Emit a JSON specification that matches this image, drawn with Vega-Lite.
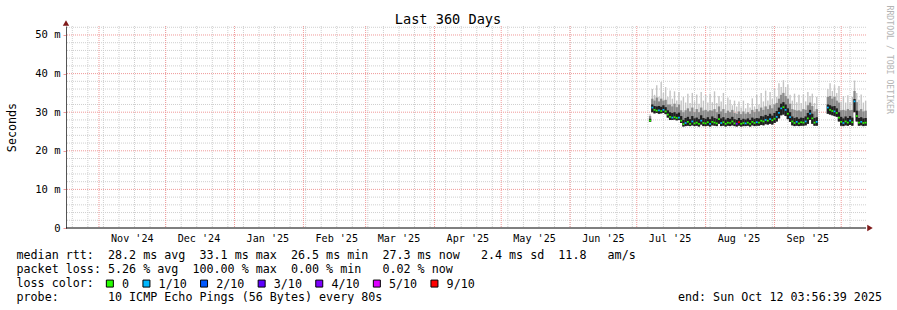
{
  "$schema": "https://vega.github.io/schema/vega-lite/v6.json",
  "width": 800,
  "height": 202,
  "autosize": {"type": "none"},
  "padding": {"left": 66, "top": 26, "right": 31, "bottom": 82},
  "background": "white",
  "config": {"view": {"stroke": null}, "font": "DejaVu Sans Mono"},
  "title": {"text": "Last 360 Days", "font": "DejaVu Sans Mono", "fontSize": 13.6, "fontWeight": "normal", "color": "#000", "anchor": "middle", "frame": "group", "dx": -18, "offset": -22},
  "resolve": {"axis": {"y": "independent"}},
  "datasets": {
    "ymin": [{"v":2},{"v":4},{"v":6},{"v":8},{"v":12},{"v":14},{"v":16},{"v":18},{"v":22},{"v":24},{"v":26},{"v":28},{"v":32},{"v":34},{"v":36},{"v":38},{"v":42},{"v":44},{"v":46},{"v":48},{"v":52}],
    "ymaj": [{"v":10},{"v":20},{"v":30},{"v":40},{"v":50}],
    "zero": [{"v":0}],
    "sundays": [{"t":"2024-10-20"},{"t":"2024-10-27"},{"t":"2024-11-03"},{"t":"2024-11-10"},{"t":"2024-11-17"},{"t":"2024-11-24"},{"t":"2024-12-01"},{"t":"2024-12-08"},{"t":"2024-12-15"},{"t":"2024-12-22"},{"t":"2024-12-29"},{"t":"2025-01-05"},{"t":"2025-01-12"},{"t":"2025-01-19"},{"t":"2025-01-26"},{"t":"2025-02-02"},{"t":"2025-02-09"},{"t":"2025-02-16"},{"t":"2025-02-23"},{"t":"2025-03-02"},{"t":"2025-03-09"},{"t":"2025-03-16"},{"t":"2025-03-23"},{"t":"2025-03-30"},{"t":"2025-04-06"},{"t":"2025-04-13"},{"t":"2025-04-20"},{"t":"2025-04-27"},{"t":"2025-05-04"},{"t":"2025-05-11"},{"t":"2025-05-18"},{"t":"2025-05-25"},{"t":"2025-06-01"},{"t":"2025-06-08"},{"t":"2025-06-15"},{"t":"2025-06-22"},{"t":"2025-06-29"},{"t":"2025-07-06"},{"t":"2025-07-13"},{"t":"2025-07-20"},{"t":"2025-07-27"},{"t":"2025-08-03"},{"t":"2025-08-10"},{"t":"2025-08-17"},{"t":"2025-08-24"},{"t":"2025-08-31"},{"t":"2025-09-07"},{"t":"2025-09-14"},{"t":"2025-09-21"},{"t":"2025-09-28"},{"t":"2025-10-05"}],
    "months": [{"t":"2024-11-01"},{"t":"2024-12-01"},{"t":"2025-01-01"},{"t":"2025-02-01"},{"t":"2025-03-01"},{"t":"2025-04-01"},{"t":"2025-05-01"},{"t":"2025-06-01"},{"t":"2025-07-01"},{"t":"2025-08-01"},{"t":"2025-09-01"},{"t":"2025-10-01"}],
    "labels": [{"t":"2024-11-16","lab":"Nov '24"},{"t":"2024-12-16","lab":"Dec '24"},{"t":"2025-01-16","lab":"Jan '25"},{"t":"2025-02-16","lab":"Feb '25"},{"t":"2025-03-16","lab":"Mar '25"},{"t":"2025-04-16","lab":"Apr '25"},{"t":"2025-05-16","lab":"May '25"},{"t":"2025-06-16","lab":"Jun '25"},{"t":"2025-07-16","lab":"Jul '25"},{"t":"2025-08-16","lab":"Aug '25"},{"t":"2025-09-16","lab":"Sep '25"}],
    "days": [
      {"t":"2025-07-07","med":27.8,"lo":27.5,"d":28.3,"m":29.0,"hi":29.5,"loss":"0"},
      {"t":"2025-07-08","med":31.2,"lo":30.0,"d":32.0,"m":33.5,"hi":36.0,"loss":"1/10"},
      {"t":"2025-07-09","med":30.6,"lo":29.7,"d":31.6,"m":33.0,"hi":34.5,"loss":"0"},
      {"t":"2025-07-10","med":30.4,"lo":29.8,"d":31.5,"m":33.8,"hi":37.0,"loss":"0"},
      {"t":"2025-07-11","med":30.5,"lo":29.6,"d":31.6,"m":32.8,"hi":34.0,"loss":"1/10"},
      {"t":"2025-07-12","med":30.3,"lo":29.7,"d":31.4,"m":33.5,"hi":37.8,"loss":"0"},
      {"t":"2025-07-13","med":30.6,"lo":29.8,"d":31.8,"m":33.0,"hi":35.0,"loss":"1/10"},
      {"t":"2025-07-14","med":30.2,"lo":29.5,"d":31.3,"m":33.2,"hi":36.5,"loss":"0"},
      {"t":"2025-07-15","med":29.4,"lo":28.6,"d":30.5,"m":32.0,"hi":34.0,"loss":"0"},
      {"t":"2025-07-16","med":28.8,"lo":28.0,"d":30.0,"m":32.0,"hi":35.6,"loss":"0"},
      {"t":"2025-07-17","med":28.6,"lo":28.0,"d":29.8,"m":31.5,"hi":33.5,"loss":"1/10"},
      {"t":"2025-07-18","med":28.7,"lo":28.1,"d":30.0,"m":32.2,"hi":35.4,"loss":"0"},
      {"t":"2025-07-19","med":28.5,"lo":27.9,"d":29.6,"m":31.3,"hi":33.0,"loss":"0"},
      {"t":"2025-07-20","med":28.6,"lo":28.0,"d":29.9,"m":32.0,"hi":35.2,"loss":"1/10"},
      {"t":"2025-07-21","med":27.8,"lo":27.2,"d":29.0,"m":30.5,"hi":33.0,"loss":"0"},
      {"t":"2025-07-22","med":26.9,"lo":26.3,"d":28.0,"m":30.0,"hi":34.0,"loss":"0"},
      {"t":"2025-07-23","med":27.2,"lo":26.4,"d":28.5,"m":30.5,"hi":32.5,"loss":"1/10"},
      {"t":"2025-07-24","med":27.5,"lo":26.5,"d":28.8,"m":31.0,"hi":34.8,"loss":"0"},
      {"t":"2025-07-25","med":27.0,"lo":26.4,"d":28.2,"m":30.2,"hi":32.4,"loss":"0"},
      {"t":"2025-07-26","med":27.6,"lo":26.6,"d":29.0,"m":31.2,"hi":35.0,"loss":"1/10"},
      {"t":"2025-07-27","med":27.1,"lo":26.4,"d":28.4,"m":30.0,"hi":32.8,"loss":"0"},
      {"t":"2025-07-28","med":27.3,"lo":26.5,"d":28.6,"m":30.8,"hi":34.6,"loss":"0"},
      {"t":"2025-07-29","med":27.0,"lo":26.3,"d":28.2,"m":30.0,"hi":32.2,"loss":"0"},
      {"t":"2025-07-30","med":27.8,"lo":26.8,"d":29.2,"m":31.2,"hi":35.2,"loss":"1/10"},
      {"t":"2025-07-31","med":27.2,"lo":26.4,"d":28.5,"m":30.4,"hi":33.0,"loss":"0"},
      {"t":"2025-08-01","med":27.1,"lo":26.4,"d":28.3,"m":30.6,"hi":34.5,"loss":"0"},
      {"t":"2025-08-02","med":27.4,"lo":26.5,"d":28.7,"m":30.2,"hi":32.5,"loss":"0"},
      {"t":"2025-08-03","med":27.0,"lo":26.3,"d":28.2,"m":30.5,"hi":34.8,"loss":"1/10"},
      {"t":"2025-08-04","med":27.5,"lo":26.6,"d":28.9,"m":30.4,"hi":32.6,"loss":"0"},
      {"t":"2025-08-05","med":27.3,"lo":26.5,"d":28.5,"m":30.8,"hi":35.4,"loss":"0"},
      {"t":"2025-08-06","med":27.1,"lo":26.4,"d":28.3,"m":30.0,"hi":32.4,"loss":"0"},
      {"t":"2025-08-07","med":28.2,"lo":27.0,"d":29.5,"m":31.5,"hi":34.2,"loss":"0"},
      {"t":"2025-08-08","med":27.2,"lo":26.4,"d":28.4,"m":30.2,"hi":32.8,"loss":"1/10"},
      {"t":"2025-08-09","med":27.4,"lo":26.5,"d":28.7,"m":30.8,"hi":35.0,"loss":"0"},
      {"t":"2025-08-10","med":27.0,"lo":26.3,"d":28.1,"m":29.8,"hi":32.0,"loss":"0"},
      {"t":"2025-08-11","med":27.3,"lo":26.5,"d":28.5,"m":30.4,"hi":33.8,"loss":"0"},
      {"t":"2025-08-12","med":27.2,"lo":26.4,"d":28.3,"m":30.0,"hi":33.2,"loss":"0"},
      {"t":"2025-08-13","med":27.6,"lo":26.6,"d":28.8,"m":30.6,"hi":31.8,"loss":"0"},
      {"t":"2025-08-14","med":27.1,"lo":26.4,"d":28.2,"m":29.8,"hi":33.0,"loss":"0"},
      {"t":"2025-08-15","med":27.0,"lo":26.3,"d":28.0,"m":29.6,"hi":31.5,"loss":"4/10"},
      {"t":"2025-08-16","med":27.4,"lo":26.5,"d":28.5,"m":30.2,"hi":32.8,"loss":"9/10"},
      {"t":"2025-08-17","med":27.0,"lo":26.3,"d":28.0,"m":29.5,"hi":31.2,"loss":"0"},
      {"t":"2025-08-18","med":27.2,"lo":26.4,"d":28.3,"m":30.2,"hi":33.0,"loss":"0"},
      {"t":"2025-08-19","med":27.1,"lo":26.4,"d":28.1,"m":29.6,"hi":31.0,"loss":"1/10"},
      {"t":"2025-08-20","med":27.3,"lo":26.5,"d":28.4,"m":30.0,"hi":32.4,"loss":"0"},
      {"t":"2025-08-21","med":27.0,"lo":26.3,"d":28.0,"m":29.6,"hi":31.2,"loss":"0"},
      {"t":"2025-08-22","med":27.5,"lo":26.6,"d":28.6,"m":30.6,"hi":33.6,"loss":"0"},
      {"t":"2025-08-23","med":27.2,"lo":26.4,"d":28.3,"m":30.0,"hi":31.5,"loss":"0"},
      {"t":"2025-08-24","med":27.4,"lo":26.5,"d":28.5,"m":30.8,"hi":34.5,"loss":"1/10"},
      {"t":"2025-08-25","med":27.3,"lo":26.5,"d":28.4,"m":30.2,"hi":32.0,"loss":"0"},
      {"t":"2025-08-26","med":27.8,"lo":26.7,"d":29.0,"m":31.2,"hi":35.0,"loss":"0"},
      {"t":"2025-08-27","med":27.6,"lo":26.6,"d":28.9,"m":30.6,"hi":32.8,"loss":"0"},
      {"t":"2025-08-28","med":28.0,"lo":26.9,"d":29.3,"m":31.5,"hi":35.6,"loss":"1/10"},
      {"t":"2025-08-29","med":27.8,"lo":26.8,"d":29.0,"m":30.8,"hi":33.0,"loss":"0"},
      {"t":"2025-08-30","med":28.2,"lo":27.0,"d":29.6,"m":31.8,"hi":35.2,"loss":"1/10"},
      {"t":"2025-08-31","med":27.9,"lo":26.8,"d":29.1,"m":31.0,"hi":33.4,"loss":"0"},
      {"t":"2025-09-01","med":28.3,"lo":27.2,"d":29.8,"m":32.0,"hi":36.0,"loss":"0"},
      {"t":"2025-09-02","med":28.8,"lo":27.6,"d":30.3,"m":32.4,"hi":34.0,"loss":"1/10"},
      {"t":"2025-09-03","med":29.8,"lo":28.4,"d":31.2,"m":33.5,"hi":37.5,"loss":"1/10"},
      {"t":"2025-09-04","med":31.0,"lo":29.2,"d":32.2,"m":34.5,"hi":36.5,"loss":"1/10"},
      {"t":"2025-09-05","med":31.3,"lo":29.4,"d":32.6,"m":35.0,"hi":38.3,"loss":"0"},
      {"t":"2025-09-06","med":30.6,"lo":29.0,"d":32.0,"m":34.2,"hi":36.5,"loss":"1/10"},
      {"t":"2025-09-07","med":29.6,"lo":28.2,"d":31.0,"m":33.5,"hi":37.2,"loss":"0"},
      {"t":"2025-09-08","med":28.7,"lo":27.5,"d":30.0,"m":32.2,"hi":34.5,"loss":"1/10"},
      {"t":"2025-09-09","med":27.6,"lo":26.6,"d":28.9,"m":30.8,"hi":33.0,"loss":"0"},
      {"t":"2025-09-10","med":27.2,"lo":26.4,"d":28.5,"m":30.6,"hi":34.8,"loss":"0"},
      {"t":"2025-09-11","med":27.5,"lo":26.5,"d":28.7,"m":30.4,"hi":32.6,"loss":"1/10"},
      {"t":"2025-09-12","med":27.1,"lo":26.4,"d":28.3,"m":30.5,"hi":34.5,"loss":"0"},
      {"t":"2025-09-13","med":27.4,"lo":26.5,"d":28.6,"m":30.2,"hi":32.4,"loss":"0"},
      {"t":"2025-09-14","med":27.3,"lo":26.5,"d":28.5,"m":30.8,"hi":34.6,"loss":"0"},
      {"t":"2025-09-15","med":27.6,"lo":26.6,"d":28.9,"m":30.6,"hi":32.8,"loss":"1/10"},
      {"t":"2025-09-16","med":28.4,"lo":27.0,"d":29.8,"m":31.8,"hi":35.2,"loss":"0"},
      {"t":"2025-09-17","med":29.6,"lo":28.0,"d":30.6,"m":32.5,"hi":34.2,"loss":"1/10"},
      {"t":"2025-09-18","med":28.4,"lo":27.0,"d":29.6,"m":31.6,"hi":34.8,"loss":"0"},
      {"t":"2025-09-19","med":27.3,"lo":26.5,"d":28.5,"m":30.2,"hi":32.4,"loss":"0"},
      {"t":"2025-09-20","med":27.5,"lo":26.5,"d":28.7,"m":30.8,"hi":34.0,"loss":"1/10"},
      {"t":"2025-09-25","med":31.2,"lo":29.6,"d":32.0,"m":34.0,"hi":36.0,"loss":"1/10"},
      {"t":"2025-09-26","med":30.6,"lo":29.4,"d":31.8,"m":34.2,"hi":37.5,"loss":"0"},
      {"t":"2025-09-27","med":30.3,"lo":29.2,"d":31.5,"m":33.5,"hi":35.5,"loss":"0"},
      {"t":"2025-09-28","med":30.2,"lo":29.0,"d":31.6,"m":34.0,"hi":37.0,"loss":"1/10"},
      {"t":"2025-09-29","med":29.8,"lo":28.8,"d":31.0,"m":33.0,"hi":35.0,"loss":"0"},
      {"t":"2025-09-30","med":28.6,"lo":27.6,"d":30.0,"m":32.5,"hi":36.8,"loss":"0"},
      {"t":"2025-10-01","med":27.5,"lo":26.5,"d":28.8,"m":30.5,"hi":32.8,"loss":"0"},
      {"t":"2025-10-02","med":27.2,"lo":26.4,"d":28.4,"m":30.6,"hi":34.2,"loss":"1/10"},
      {"t":"2025-10-03","med":27.6,"lo":26.6,"d":28.9,"m":30.4,"hi":32.5,"loss":"0"},
      {"t":"2025-10-04","med":27.3,"lo":26.5,"d":28.5,"m":30.8,"hi":34.4,"loss":"0"},
      {"t":"2025-10-05","med":27.8,"lo":26.7,"d":29.0,"m":30.5,"hi":32.6,"loss":"1/10"},
      {"t":"2025-10-06","med":27.4,"lo":26.5,"d":28.6,"m":30.6,"hi":34.0,"loss":"0"},
      {"t":"2025-10-07","med":32.8,"lo":30.0,"d":33.4,"m":35.5,"hi":38.2,"loss":"1/10"},
      {"t":"2025-10-08","med":29.0,"lo":27.6,"d":30.4,"m":32.6,"hi":35.0,"loss":"0"},
      {"t":"2025-10-09","med":27.3,"lo":26.5,"d":28.5,"m":30.4,"hi":33.2,"loss":"0"},
      {"t":"2025-10-10","med":27.5,"lo":26.6,"d":28.7,"m":30.8,"hi":34.6,"loss":"1/10"},
      {"t":"2025-10-11","med":27.2,"lo":26.4,"d":28.4,"m":30.2,"hi":32.5,"loss":"0"},
      {"t":"2025-10-12","med":27.3,"lo":26.5,"d":28.5,"m":30.4,"hi":33.0,"loss":"0"}
    ]
  },
  "layer": [
    {
      "data": {"name": "sundays"},
      "mark": {"type": "rule", "color": "#cfcfcf", "strokeWidth": 1, "strokeDash": [1, 1]},
      "encoding": {
        "x": {"field": "t", "type": "temporal", "axis": null, "scale": {"type": "utc", "domain": [1729137399000, 1760241399000]}}
      }
    },
    {
      "data": {"name": "ymin"},
      "mark": {"type": "rule", "color": "#cfcfcf", "strokeWidth": 1, "strokeDash": [1, 1]},
      "encoding": {
        "y": {"field": "v", "type": "quantitative", "scale": {"domain": [0, 52.33], "nice": false},
          "axis": {"orient": "left", "values": [0, 10, 20, 30, 40, 50], "labelExpr": "datum.value == 0 ? '0\u00a0\u00a0' : datum.value + '\u00a0m'", "labelFont": "DejaVu Sans Mono", "labelFontSize": 10.5, "labelColor": "#000", "labelPadding": 3, "tickSize": 3, "tickColor": "#f09999", "domainColor": "#555", "grid": false,
            "title": "Seconds", "titleFont": "DejaVu Sans Mono", "titleFontSize": 11.7, "titleFontWeight": "normal", "titleColor": "#000", "titleAngle": 270, "titleX": -55, "titleY": 101, "titleAlign": "center", "titleBaseline": "middle"}}
      }
    },
    {
      "data": {"name": "ymaj"},
      "mark": {"type": "rule", "color": "#f09999", "strokeWidth": 1, "strokeDash": [1, 1]},
      "encoding": {
        "y": {"field": "v", "type": "quantitative", "scale": {"domain": [0, 52.33], "nice": false},
          "axis": {"orient": "right", "labels": false, "ticks": false, "domain": false, "grid": false,
            "title": "RRDTOOL / TOBI OETIKER", "titleFont": "DejaVu Sans Mono", "titleFontSize": 8.2, "titleFontWeight": "normal", "titleColor": "#b4b4b4", "titleAngle": 90, "titleX": 22, "titleY": -21, "titleAlign": "left", "titleBaseline": "middle"}}
      }
    },
    {
      "data": {"name": "months"},
      "mark": {"type": "rule", "color": "#f09999", "strokeWidth": 1, "strokeDash": [1, 1]},
      "encoding": {
        "x": {"field": "t", "type": "temporal", "axis": null, "scale": {"type": "utc", "domain": [1729137399000, 1760241399000]}}
      }
    },
    {
      "data": {"name": "days"},
      "mark": {"type": "rule", "color": "#c4c4c4", "strokeWidth": 1.4},
      "encoding": {
        "x": {"field": "t", "type": "temporal", "axis": null, "scale": {"type": "utc", "domain": [1729137399000, 1760241399000]}},
        "y": {"field": "lo", "type": "quantitative", "axis": null, "scale": {"domain": [0, 52.33], "nice": false}},
        "y2": {"field": "hi"}
      }
    },
    {
      "data": {"name": "days"},
      "mark": {"type": "rule", "color": "#8a8a8a", "strokeWidth": 2.3},
      "encoding": {
        "x": {"field": "t", "type": "temporal", "axis": null, "scale": {"type": "utc", "domain": [1729137399000, 1760241399000]}},
        "y": {"field": "lo", "type": "quantitative", "axis": null, "scale": {"domain": [0, 52.33], "nice": false}},
        "y2": {"field": "m"}
      }
    },
    {
      "data": {"name": "days"},
      "mark": {"type": "rule", "color": "#1e1e1e", "strokeWidth": 2.3},
      "encoding": {
        "x": {"field": "t", "type": "temporal", "axis": null, "scale": {"type": "utc", "domain": [1729137399000, 1760241399000]}},
        "y": {"field": "lo", "type": "quantitative", "axis": null, "scale": {"domain": [0, 52.33], "nice": false}},
        "y2": {"field": "d"}
      }
    },
    {
      "data": {"name": "days"},
      "mark": {"type": "square", "size": 3, "opacity": 1},
      "encoding": {
        "x": {"field": "t", "type": "temporal", "axis": null, "scale": {"type": "utc", "domain": [1729137399000, 1760241399000]}},
        "y": {"field": "med", "type": "quantitative", "axis": null, "scale": {"domain": [0, 52.33], "nice": false}},
        "color": {"field": "loss", "type": "nominal",
          "scale": {"domain": ["0", "1/10", "2/10", "3/10", "4/10", "5/10", "9/10"], "range": ["#26ff00", "#00b8ff", "#0059ff", "#5e00ff", "#7e00ff", "#dd00ff", "#ff0000"]},
          "legend": {"orient": "none", "legendX": 38, "legendY": 251.5, "direction": "horizontal", "columns": 7, "title": null, "padding": 0,
            "symbolType": "square", "symbolSize": 49, "symbolStrokeColor": "#000", "symbolStrokeWidth": 1, "symbolOpacity": 1,
            "labelFont": "DejaVu Sans Mono", "labelFontSize": 11.7, "labelColor": "#000", "labelOffset": 6.3, "columnPadding": 10.6, "labelLimit": 0,
            "encode": {"symbols": {"update": {"stroke": {"value": "#000"}, "strokeWidth": {"value": 1}, "opacity": {"value": 1}}}}}}
      }
    },
    {
      "data": {"name": "zero"},
      "mark": {"type": "rule", "color": "#000", "strokeWidth": 1},
      "encoding": {
        "y": {"field": "v", "type": "quantitative", "scale": {"domain": [0, 52.33], "nice": false},
          "axis": {"orient": "left", "labels": false, "ticks": false, "domain": false, "grid": false,
            "title": ["median\u00a0rtt:\u00a0\u00a028.2\u00a0ms\u00a0avg\u00a0\u00a033.1\u00a0ms\u00a0max\u00a0\u00a026.5\u00a0ms\u00a0min\u00a0\u00a027.3\u00a0ms\u00a0now\u00a0\u00a0\u00a02.4\u00a0ms\u00a0sd\u00a0\u00a011.8\u00a0\u00a0\u00a0am/s", "packet\u00a0loss:\u00a05.26\u00a0%\u00a0avg\u00a0\u00a0100.00\u00a0%\u00a0max\u00a0\u00a00.00\u00a0%\u00a0min\u00a0\u00a0\u00a00.02\u00a0%\u00a0now", "loss\u00a0color:", "probe:\u00a0\u00a0\u00a0\u00a0\u00a0\u00a0\u00a010\u00a0ICMP\u00a0Echo\u00a0Pings\u00a0(56\u00a0Bytes)\u00a0every\u00a080s\u00a0\u00a0\u00a0\u00a0\u00a0\u00a0\u00a0\u00a0\u00a0\u00a0\u00a0\u00a0\u00a0\u00a0\u00a0\u00a0\u00a0\u00a0\u00a0\u00a0\u00a0\u00a0\u00a0\u00a0\u00a0\u00a0\u00a0\u00a0\u00a0\u00a0\u00a0\u00a0\u00a0\u00a0\u00a0\u00a0\u00a0\u00a0\u00a0\u00a0\u00a0\u00a0end:\u00a0Sun\u00a0Oct\u00a012\u00a003:56:39\u00a02025"],
            "titleFont": "DejaVu Sans Mono", "titleFontSize": 11.7, "titleFontWeight": "normal", "titleColor": "#000", "titleLineHeight": 14, "titleAngle": 0, "titleX": -50, "titleY": 232, "titleAlign": "left", "titleBaseline": "alphabetic"}}
      }
    },
    {
      "data": {"name": "labels"},
      "mark": {"type": "text", "font": "DejaVu Sans Mono", "fontSize": 10.1, "color": "#000", "align": "center", "baseline": "top", "dy": 6},
      "encoding": {
        "x": {"field": "t", "type": "temporal", "axis": null, "scale": {"type": "utc", "domain": [1729137399000, 1760241399000]}},
        "y": {"datum": 0, "type": "quantitative", "axis": null, "scale": {"domain": [0, 52.33], "nice": false}},
        "text": {"field": "lab"}
      }
    },
    {
      "data": {"values": [{}]},
      "mark": {"type": "point", "shape": "triangle-up", "filled": true, "size": 40, "color": "#7f1a1a", "opacity": 1, "yOffset": -3},
      "encoding": {
        "x": {"datum": 1729137399000, "type": "temporal", "axis": null, "scale": {"type": "utc", "domain": [1729137399000, 1760241399000]}},
        "y": {"datum": 52.33, "type": "quantitative", "axis": null, "scale": {"domain": [0, 52.33], "nice": false}}
      }
    },
    {
      "data": {"values": [{}]},
      "mark": {"type": "point", "shape": "triangle-right", "filled": true, "size": 40, "color": "#7f1a1a", "opacity": 1, "xOffset": 4},
      "encoding": {
        "x": {"datum": 1760241399000, "type": "temporal", "axis": null, "scale": {"type": "utc", "domain": [1729137399000, 1760241399000]}},
        "y": {"datum": 0, "type": "quantitative", "axis": null, "scale": {"domain": [0, 52.33], "nice": false}}
      }
    }
  ]
}
